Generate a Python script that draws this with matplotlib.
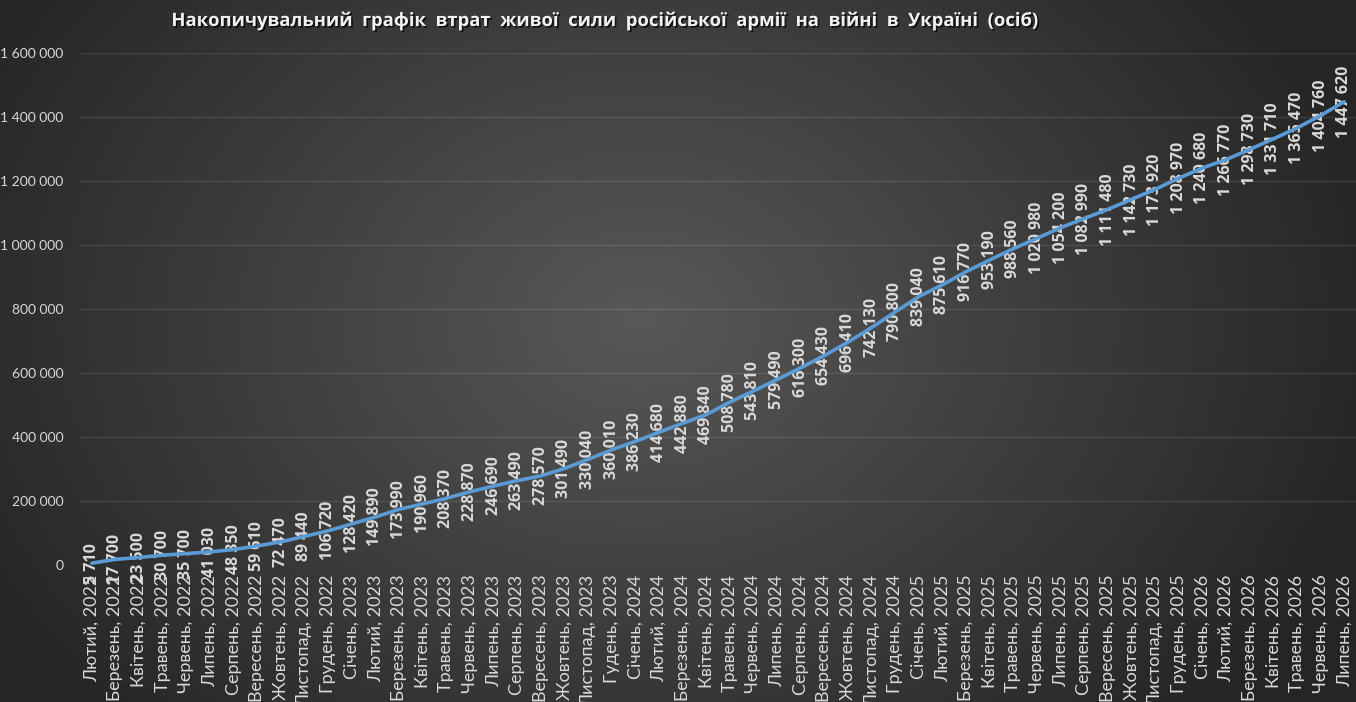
import matplotlib
matplotlib.use("Agg")
import matplotlib.pyplot as plt
import matplotlib.patheffects as pe
import numpy as np
from matplotlib.ticker import FuncFormatter

# months (labels as in the source, including its typo "Гудень")
months = [
    "Лютий, 2022", "Березень, 2022", "Квітень, 2022", "Травень, 2022", "Червень, 2022",
    "Липень, 2022", "Серпень, 2022", "Вересень, 2022", "Жовтень, 2022", "Листопад, 2022",
    "Грудень, 2022",
    "Січень, 2023", "Лютий, 2023", "Березень, 2023", "Квітень, 2023", "Травень, 2023",
    "Червень, 2023", "Липень, 2023", "Серпень, 2023", "Вересень, 2023", "Жовтень, 2023",
    "Листопад, 2023", "Гудень, 2023",
    "Січень, 2024", "Лютий, 2024", "Березень, 2024", "Квітень, 2024", "Травень, 2024",
    "Червень, 2024", "Липень, 2024", "Серпень, 2024", "Вересень, 2024", "Жовтень, 2024",
    "Листопад, 2024", "Грудень, 2024",
    "Січень, 2025", "Лютий, 2025", "Березень, 2025", "Квітень, 2025", "Травень, 2025",
    "Червень, 2025", "Липень, 2025", "Серпень, 2025", "Вересень, 2025", "Жовтень, 2025",
    "Листопад, 2025", "Грудень, 2025",
    "Січень, 2026", "Лютий, 2026", "Березень, 2026", "Квітень, 2026", "Травень, 2026",
    "Червень, 2026", "Липень, 2026",
]

losses = [
    5710, 17700, 23500, 30700, 35700, 41030, 48350, 59610, 72470, 89440, 106720,
    128420, 149890, 173990, 190960, 208370, 228870, 246690, 263490, 278570, 301490,
    330040, 360010,
    386230, 414680, 442880, 469840, 508780, 543810, 579490, 616300, 654430, 696410,
    742130, 790800,
    839040, 875610, 916770, 953190, 988560, 1020980, 1054200, 1082990, 1111480,
    1142730, 1173920, 1208970,
    1240680, 1266770, 1298730, 1331710, 1365470, 1404760, 1447620,
]

title = ("Накопичувальний  графік  втрат  живої  сили  російської  армії  "
         "на  війні  в  Україні  (осіб)")

plt.rcParams['font.family'] = ['Lato', 'DejaVu Sans']
bold_family = ['Open Sans', 'DejaVu Sans']


def fmt_num(v):
    return f"{int(v):,}".replace(",", " ")


W, H = 1356, 702
fig = plt.figure(figsize=(W / 100, H / 100), dpi=100)

# dark radial gradient behind everything
bg = fig.add_axes([0, 0, 1, 1], zorder=-10)
yy, xx = np.mgrid[0:H, 0:W]
d = np.sqrt(((xx - 640) / 760.0) ** 2 + ((yy - 320) / 580.0) ** 2)
d = np.clip(d, 0, 1)
shade = (0x58 - (0x58 - 0x25) * d) / 255.0
bg.imshow(np.dstack([shade, shade, shade]), aspect='auto', extent=[0, 1, 0, 1])
bg.axis('off')

ax = fig.add_axes([80 / W, 1 - 565 / H, 1 - 80 / W, (565 - 53) / H])
ax.set_facecolor('none')
x = np.arange(len(months))

ax.plot(x, losses, color='#5b9bd5', lw=2.6, solid_capstyle='round',
        solid_joinstyle='round', zorder=5)

for xi, v in zip(x, losses):
    ax.text(xi, v, fmt_num(v), rotation=90, ha='center', va='center',
            fontsize=11.5, fontweight='bold', color='#d9d9d9', zorder=4,
            family=bold_family)

ax.set_xlim(-0.5, len(months) - 0.5)
ax.set_ylim(0, 1600000)
ax.set_yticks(np.arange(0, 1600001, 200000))
ax.yaxis.set_major_formatter(FuncFormatter(lambda v, p: fmt_num(v)))
ax.set_xticks(x)
ax.set_xticklabels(months, rotation=90)
ax.tick_params(axis='x', length=0, pad=7, labelsize=13, colors='#d9d9d9')
ax.tick_params(axis='y', length=0, pad=12, labelsize=10, colors='#d9d9d9')
ax.grid(axis='y', color='white', alpha=0.1, lw=1)
ax.set_axisbelow(True)
for s in ax.spines.values():
    s.set_visible(False)

fig.text(607 / W, 1 - 21 / H, title, ha='center', va='center', fontsize=13.3,
         fontweight='bold', color='#f2f2f2', family=bold_family,
         path_effects=[pe.SimplePatchShadow(offset=(1.2, -1.2), shadow_rgbFace='black',
                                            alpha=0.7), pe.Normal()])

fig.savefig('out.png', dpi=100)
